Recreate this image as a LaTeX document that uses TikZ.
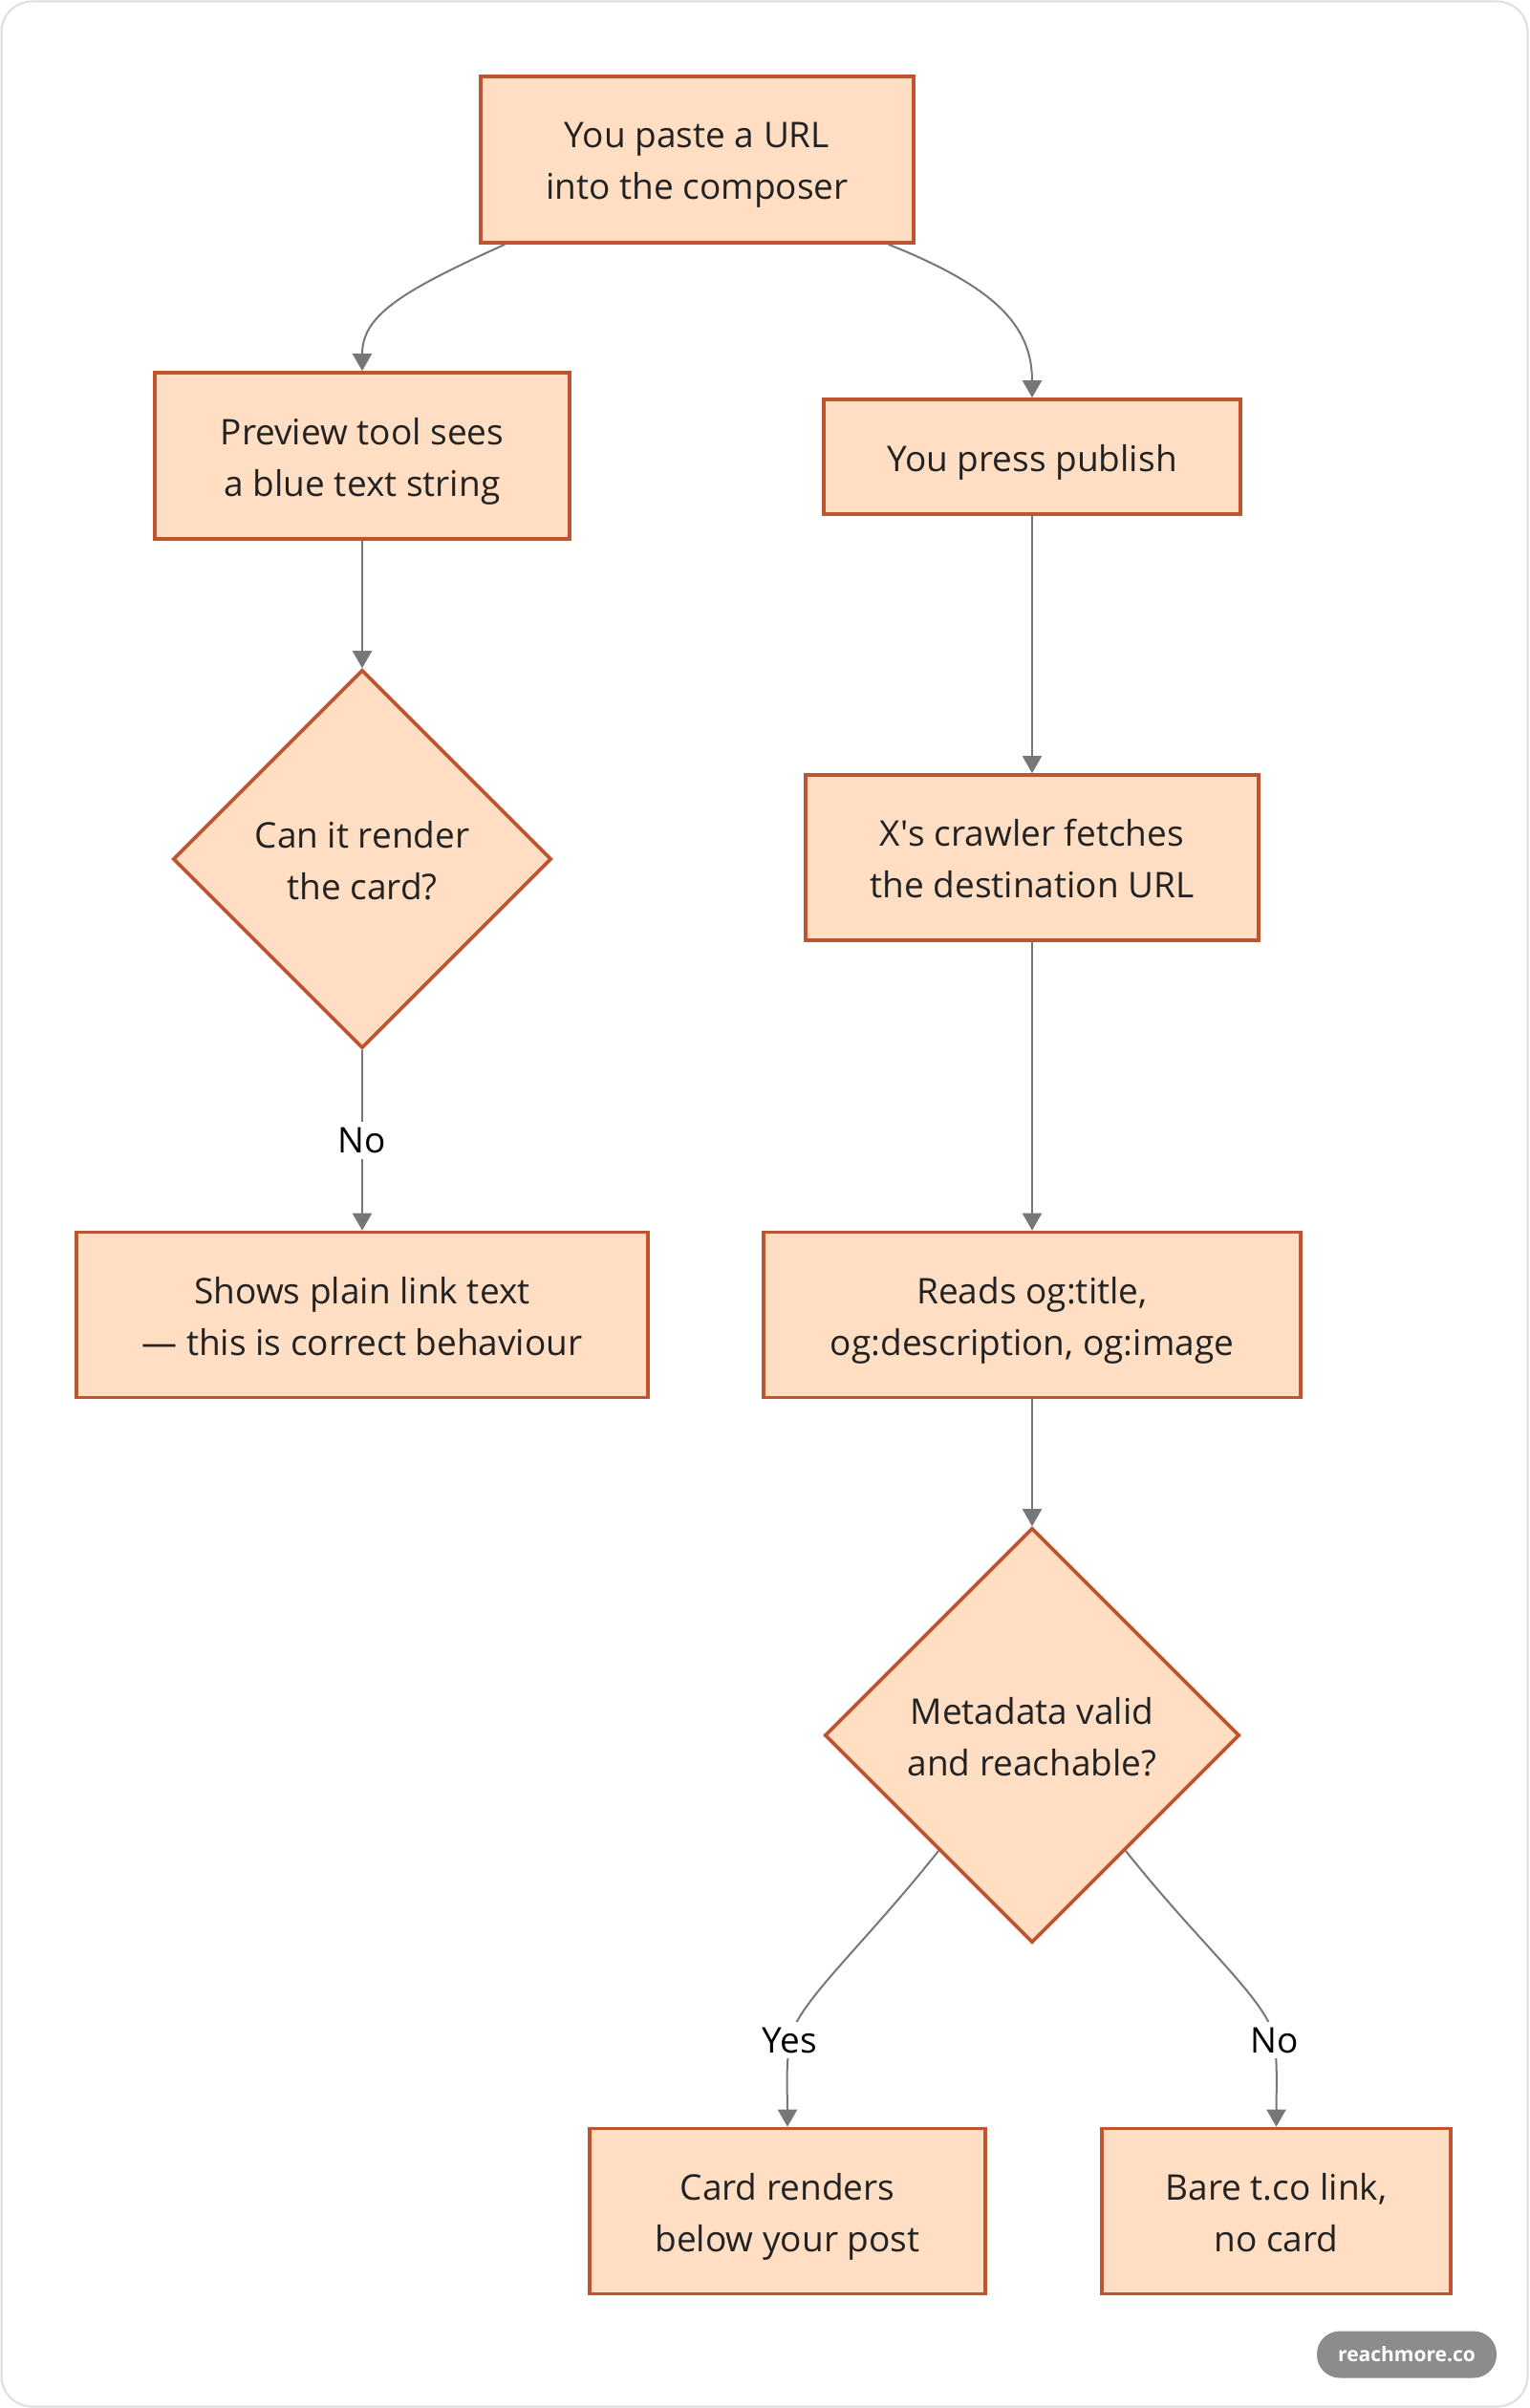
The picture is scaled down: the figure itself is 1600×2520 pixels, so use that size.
\documentclass[tikz,border=0pt]{standalone}
\usepackage{fontspec}
\setmainfont{Open Sans}
\usetikzlibrary{shapes.geometric,arrows.meta}
\definecolor{boxfill}{HTML}{FFDEC4}
\definecolor{boxline}{HTML}{BF5430}
\definecolor{edgecol}{HTML}{777777}
\definecolor{framecol}{HTML}{DDDDDD}
\definecolor{badgecol}{HTML}{8C8C8C}
\definecolor{txt}{HTML}{222222}
\begin{document}
\begin{tikzpicture}[x=0.5pt,y=-0.5pt,
  box/.style={draw=boxline, fill=boxfill, line width=1.8pt, text=txt, align=center,
    font=\fontsize{18.5}{27}\selectfont, inner sep=0pt, text height=46pt, text depth=4pt},
  oneline/.style={text height=19pt},
  dec/.style={box, diamond, aspect=1},
  edge/.style={draw=edgecol, line width=1pt, -{Triangle[width=10pt,length=9pt]}},
  lbl/.style={fill=white, text=black, font=\fontsize{18.5}{27}\selectfont, inner sep=3pt}]
\fill[white] (0,0) rectangle (1600,2520);
\useasboundingbox (0,0) rectangle (1600,2520);
\draw[framecol, line width=1pt, rounded corners=16pt] (1.5,1.5) rectangle (1598.5,2518.5);

\node[box, minimum width=226.5pt, minimum height=87pt] (paste) at (729.5,167) {You paste a URL\\into the composer};
\node[box, minimum width=217pt, minimum height=87pt] (preview) at (379,477) {Preview tool sees\\a blue text string};
\node[box, oneline, minimum width=218pt, minimum height=60pt] (publish) at (1080,478) {You press publish};
\node[dec, minimum width=198pt, minimum height=198pt] (render) at (379,899) {Can it render\\the card?};
\node[box, minimum width=299pt, minimum height=86.5pt] (plain) at (379,1376) {Shows plain link text\\— this is correct behaviour};
\node[box, minimum width=237pt, minimum height=86.5pt] (crawler) at (1080,897.5) {X\textquotesingle s crawler fetches\\the destination URL};
\node[box, minimum width=281pt, minimum height=86.5pt] (reads) at (1080,1376) {Reads og:title,\\og:description, og:image};
\node[dec, minimum width=217pt, minimum height=217pt] (valid) at (1080,1816) {Metadata valid\\and reachable?};
\node[box, minimum width=207pt, minimum height=86.5pt] (card) at (824,2314) {Card renders\\below your post};
\node[box, minimum width=182.5pt, minimum height=86.5pt] (bare) at (1335.5,2314) {Bare t.co link,\\no card};

\node[fill=badgecol, text=white, rounded corners=12pt, minimum width=94pt, minimum height=24.5pt,
  inner sep=0pt, font=\fontsize{10.5}{12}\selectfont\bfseries] (badge) at (1472,2464) {reachmore.co};

\draw[edge] ([xshift=13.5pt]paste.south west) .. controls (420,305) and (379,330) .. (preview.north);
\draw[edge] ([xshift=-14pt]paste.south east) .. controls (1040,300) and (1080,340) .. (publish.north);
\draw[edge] (preview.south) -- (render.north);
\draw[edge] (render.south) -- node[lbl] (lno) {No} (plain.north);
\draw[edge] (publish.south) -- (crawler.north);
\draw[edge] (crawler.south) -- (reads.north);
\draw[edge] (reads.south) -- (valid.north);
\draw[edge] (valid.231) .. controls (900,2040) and (835,2095) .. (826,2135)
  node[lbl] (lyes) {Yes} .. controls (822,2175) and (824,2185) .. (card.north);
\draw[edge] (valid.309) .. controls (1260,2040) and (1328,2095) .. (1334,2135)
  node[lbl] (lno2) {No} .. controls (1337,2175) and (1335.5,2185) .. (bare.north);
\end{tikzpicture}
\end{document}
